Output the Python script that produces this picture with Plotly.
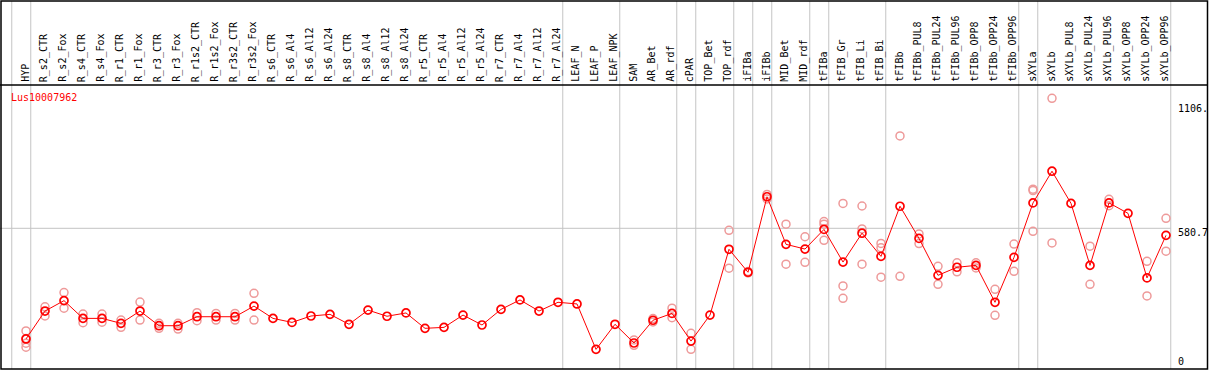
import plotly.graph_objects as go

W, H = 1209, 370

categories = ["HYP",
    "R_s2_CTR", "R_s2_Fox", "R_s4_CTR", "R_s4_Fox", "R_r1_CTR", "R_r1_Fox", "R_r3_CTR", "R_r3_Fox",
    "R_r1s2_CTR", "R_r1s2_Fox", "R_r3s2_CTR", "R_r3s2_Fox",
    "R_s6_CTR", "R_s6_Al4", "R_s6_Al12", "R_s6_Al24",
    "R_s8_CTR", "R_s8_Al4", "R_s8_Al12", "R_s8_Al24",
    "R_r5_CTR", "R_r5_Al4", "R_r5_Al12", "R_r5_Al24",
    "R_r7_CTR", "R_r7_Al4", "R_r7_Al12", "R_r7_Al24",
    "LEAF_N", "LEAF_P", "LEAF_NPK",
    "SAM", "AR_Bet", "AR_rdf",
    "cPAR",
    "TOP_Bet", "TOP_rdf",
    "iFIBa",
    "iFIBb",
    "MID_Bet", "MID_rdf",
    "tFIBa",
    "tFIB_Gr", "tFIB_Li", "tFIB_Bi",
    "tFIBb", "tFIBb_PUL8", "tFIBb_PUL24", "tFIBb_PUL96", "tFIBb_OPP8", "tFIBb_OPP24", "tFIBb_OPP96",
    "sXYLa",
    "sXYLb", "sXYLb_PUL8", "sXYLb_PUL24", "sXYLb_PUL96", "sXYLb_OPP8", "sXYLb_OPP24", "sXYLb_OPP96"]

# number of categories in each vertical-line separated group
group_sizes = [1, 28, 3, 3, 1, 2, 1, 1, 2, 1, 3, 7, 1, 7]

means = [113, 231, 275, 200, 200, 179, 231, 169, 169, 207, 207, 207, 252,
         200, 183, 210, 217, 175, 235, 209, 223, 158, 162, 214, 172,
         238, 278, 231, 268, 261, 69, 175, 96, 192, 221, 104, 214, 492,
         395, 714, 513, 493, 576, 438, 560, 462, 674, 538, 382, 416, 424,
         268, 458, 688, 822, 686, 424, 688, 644, 371, 551]

replicates = [
    [147, 115, 95, 78], [249, 210], [309, 243], [218, 182], [218, 184],
    [193, 162], [269, 193], [179, 158], [179, 155], [224, 190], [221, 193],
    [221, 193], [306, 193],
    [], [], [], [], [], [], [], [], [], [], [], [], [], [], [], [], [], [], [],
    [109, 86], [199, 185], [243, 203], [137, 69], [], [572, 412], [398, 392],
    [724, 705], [598, 429], [545, 437], [609, 598, 530], [686, 337, 285],
    [675, 578, 429], [517, 499, 374], [971, 378], [557, 516], [420, 344],
    [435, 397], [435, 413], [323, 213], [514, 399], [746, 740, 568],
    [1130, 519], [], [505, 344], [703, 676], [], [441, 295], [623, 484]]

gene = "Lus10007962"
ref_value = 580.7
top_label = "1106."
bottom_label = "0"

FONT = "DejaVu Sans Mono"

# pixel mapping helpers (layout only)
X0_PX, DX_PX = 26.0, 19.0          # pixel x of first category, step
Y0_PX, SY = 365.7, 0.2366          # pixel y of value 0, px per unit
x_range = [(0 - X0_PX) / DX_PX, (W - X0_PX) / DX_PX]
y_range = [(Y0_PX - H) / SY, Y0_PX / SY]

def px_x(p):
    return p / W

def px_y(p):
    return 1 - p / H

xs = list(range(len(categories)))
rep_x, rep_y = [], []
for i, reps in enumerate(replicates):
    for v in reps:
        rep_x.append(i)
        rep_y.append(v)

fig = go.Figure()
fig.add_trace(go.Scatter(x=rep_x, y=rep_y, mode="markers",
                         marker=dict(symbol="circle-open", size=8, color="#ee9a9a",
                                     line=dict(width=1.5, color="#ee9a9a")),
                         hoverinfo="skip", showlegend=False))
fig.add_trace(go.Scatter(x=xs, y=means, mode="lines+markers",
                         line=dict(color="#ff0000", width=1),
                         marker=dict(symbol="circle-open", size=8, color="#ff0000",
                                     line=dict(width=1.7, color="#ff0000")),
                         hoverinfo="skip", showlegend=False))

shapes = []
grey = "#c4c4c4"
# vertical group separators
b = -1
bounds = [b]
for g in group_sizes:
    b += g
    bounds.append(b)
for k in bounds:
    shapes.append(dict(type="line", xref="x", yref="paper", x0=k + 0.25, x1=k + 0.25,
                       y0=px_y(369), y1=px_y(1), line=dict(color=grey, width=1), layer="below"))
# horizontal reference line
shapes.append(dict(type="line", xref="paper", yref="y", x0=0, x1=px_x(1170.75),
                   y0=ref_value, y1=ref_value, line=dict(color=grey, width=1), layer="below"))
# header separator and frame
shapes.append(dict(type="line", xref="paper", yref="paper", x0=0, x1=px_x(1208),
                   y0=px_y(85), y1=px_y(85), line=dict(color="black", width=1.5)))
shapes.append(dict(type="rect", xref="paper", yref="paper", x0=px_x(1), x1=px_x(1207.5),
                   y0=px_y(369), y1=px_y(1), line=dict(color="black", width=1.5)))

annotations = []
for i, c in enumerate(categories):
    annotations.append(dict(x=i - 0.07, y=px_y(84), xref="x", yref="paper", text=c,
                            textangle=-90, xanchor="center", yanchor="bottom",
                            showarrow=False, font=dict(family=FONT, size=10, color="black")))
annotations.append(dict(x=px_x(9), y=px_y(97), xref="paper", yref="paper", text=gene,
                        xanchor="left", yanchor="middle", showarrow=False,
                        font=dict(family=FONT, size=10, color="#ff0000")))
annotations.append(dict(x=px_x(1176), y=float(top_label), xref="paper", yref="y", text=top_label,
                        xanchor="left", yanchor="top", yshift=3, showarrow=False,
                        font=dict(family=FONT, size=10, color="black")))
annotations.append(dict(x=px_x(1176), y=ref_value, xref="paper", yref="y", text=str(ref_value),
                        xanchor="left", yanchor="top", yshift=3, showarrow=False,
                        font=dict(family=FONT, size=10, color="black")))
annotations.append(dict(x=px_x(1176), y=px_y(369), xref="paper", yref="paper", text=bottom_label,
                        xanchor="left", yanchor="bottom", showarrow=False,
                        font=dict(family=FONT, size=10, color="black")))

fig.update_layout(width=W, height=H, margin=dict(l=0, r=0, t=0, b=0),
                  paper_bgcolor="white", plot_bgcolor="white",
                  xaxis=dict(range=x_range, visible=False, fixedrange=True),
                  yaxis=dict(range=y_range, visible=False, fixedrange=True),
                  shapes=shapes, annotations=annotations, showlegend=False)

fig.write_html("out.html", config={"staticPlot": True},
               post_script="document.body.style.margin='0';document.body.style.overflow='hidden';")
